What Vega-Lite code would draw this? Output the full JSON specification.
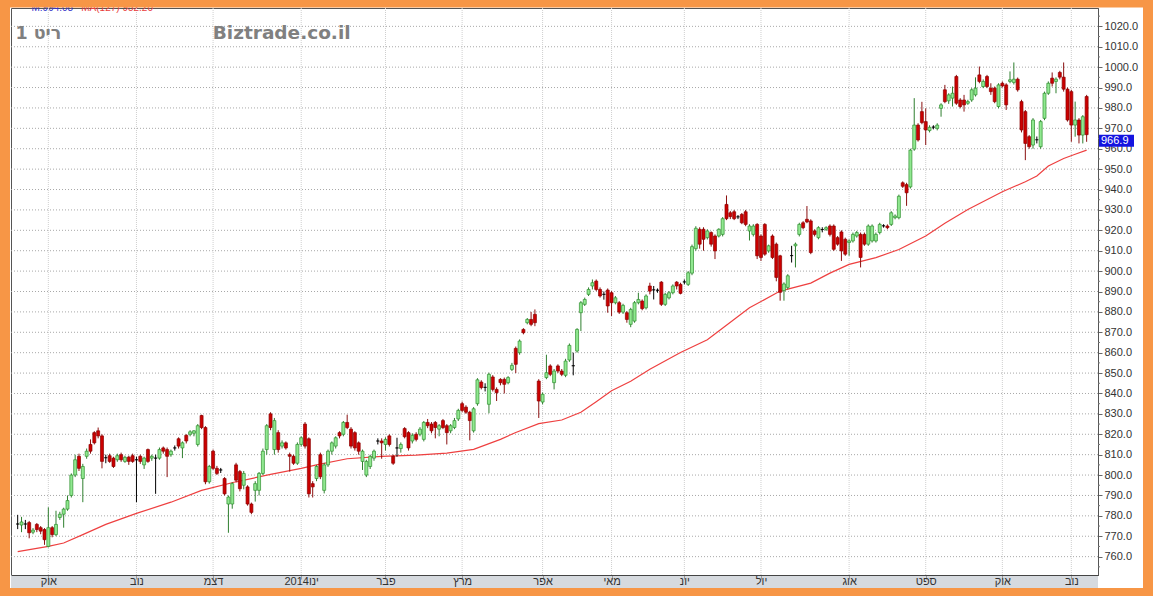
{
  "$schema": "https://vega.github.io/schema/vega-lite/v6.json",
  "width": 1087,
  "height": 567,
  "autosize": {"type": "none"},
  "padding": {"left": 11, "top": 8, "right": 55, "bottom": 21},
  "background": "white",
  "config": {
    "view": {"stroke": "#555555", "strokeWidth": 1, "fill": "white"},
    "axis": {"labelOverlap": false},
    "axisY": {"labelOverlap": false, "labelBound": false}
  },
  "datasets": {
    "months": [{"i":8},{"i":31},{"i":51},{"i":74},{"i":96},{"i":116},{"i":137},{"i":155},{"i":174},{"i":194},{"i":217},{"i":237},{"i":257},{"i":275}],
    "levels": [{"v":760},{"v":770},{"v":780},{"v":790},{"v":800},{"v":810},{"v":820},{"v":830},{"v":840},{"v":850},{"v":860},{"v":870},{"v":880},{"v":890},{"v":900},{"v":910},{"v":920},{"v":930},{"v":940},{"v":950},{"v":960},{"v":970},{"v":980},{"v":990},{"v":1000},{"v":1010},{"v":1020}],
    "minor": [{"v":755},{"v":765},{"v":775},{"v":785},{"v":795},{"v":805},{"v":815},{"v":825},{"v":835},{"v":845},{"v":855},{"v":865},{"v":875},{"v":885},{"v":895},{"v":905},{"v":915},{"v":925},{"v":935},{"v":945},{"v":955},{"v":965},{"v":975},{"v":985},{"v":995},{"v":1005},{"v":1015},{"v":1025}],
    "ma": [{"i":0,"ma":762.5},{"i":8,"ma":765},{"i":12,"ma":766.7},{"i":17,"ma":770.8},{"i":23,"ma":775.8},{"i":31,"ma":781.2},{"i":40,"ma":786.7},{"i":48,"ma":792.5},{"i":57,"ma":796.7},{"i":66,"ma":800.3},{"i":74,"ma":803.3},{"i":78,"ma":805},{"i":86,"ma":808},{"i":95,"ma":809.2},{"i":104,"ma":809.8},{"i":112,"ma":810.8},{"i":119,"ma":812.6},{"i":126,"ma":817.5},{"i":130,"ma":820.9},{"i":136,"ma":825.2},{"i":142,"ma":827},{"i":147,"ma":830.8},{"i":151,"ma":836},{"i":155,"ma":841.3},{"i":160,"ma":846},{"i":165,"ma":851.9},{"i":173,"ma":860.1},{"i":180,"ma":866.3},{"i":183,"ma":870.6},{"i":191,"ma":882},{"i":199,"ma":890.2},{"i":207,"ma":894.1},{"i":212,"ma":899},{"i":217,"ma":903.3},{"i":224,"ma":906.6},{"i":230,"ma":910.6},{"i":237,"ma":917.2},{"i":242,"ma":923.5},{"i":248,"ma":930.2},{"i":257,"ma":938.9},{"i":263,"ma":943.8},{"i":266,"ma":946.6},{"i":269,"ma":951.5},{"i":273,"ma":955.2},{"i":276,"ma":957.3},{"i":279,"ma":959.3}],
    "ohlc": [
{"i":0,"o":776,"h":780.5,"l":773.5,"c":776},
{"i":1,"o":775.5,"h":779.5,"l":772,"c":777},
{"i":2,"o":776,"h":778,"l":773.5,"c":776},
{"i":3,"o":776.7,"h":777.5,"l":769,"c":771.7},
{"i":4,"o":772,"h":774,"l":771,"c":773},
{"i":5,"o":775.8,"h":776.5,"l":772,"c":773.3},
{"i":6,"o":774.2,"h":775,"l":771,"c":772.5},
{"i":7,"o":773.3,"h":774,"l":765.8,"c":768.3},
{"i":8,"o":765,"h":784.2,"l":764.5,"c":774.2},
{"i":9,"o":774.2,"h":775,"l":769.5,"c":770.8},
{"i":10,"o":770.8,"h":782.5,"l":770,"c":775.8},
{"i":11,"o":779.2,"h":782,"l":778,"c":780.8},
{"i":12,"o":780.8,"h":784,"l":774.2,"c":783.3},
{"i":13,"o":783.3,"h":790,"l":782.5,"c":787.5},
{"i":14,"o":790,"h":800.8,"l":789,"c":800},
{"i":15,"o":800,"h":810,"l":799,"c":807.5},
{"i":16,"o":809.2,"h":810.5,"l":802,"c":803.3},
{"i":17,"o":798.3,"h":805.5,"l":786.7,"c":804.2},
{"i":18,"o":809.2,"h":813,"l":808,"c":811.7},
{"i":19,"o":815,"h":817.5,"l":810.5,"c":811.7},
{"i":20,"o":820.8,"h":821.5,"l":815,"c":815.8},
{"i":21,"o":821.7,"h":823.3,"l":818,"c":819.2},
{"i":22,"o":819.2,"h":820,"l":803.3,"c":806.7},
{"i":23,"o":808.5,"h":810,"l":805.8,"c":808.5},
{"i":24,"o":809.5,"h":810.5,"l":806,"c":806.7},
{"i":25,"o":808.3,"h":809,"l":803.5,"c":804.2},
{"i":26,"o":807.5,"h":810.5,"l":806.5,"c":809.5},
{"i":27,"o":810,"h":811,"l":806.5,"c":807.5},
{"i":28,"o":806.7,"h":809.5,"l":806,"c":808.7},
{"i":29,"o":808.8,"h":809.5,"l":805,"c":806.7},
{"i":30,"o":809.5,"h":810.5,"l":806,"c":806.7},
{"i":31,"o":807.5,"h":809,"l":786.7,"c":807.5},
{"i":32,"o":809.2,"h":810,"l":805.5,"c":806.7},
{"i":33,"o":805,"h":809,"l":803,"c":808.3},
{"i":34,"o":812.5,"h":813,"l":806,"c":806.7},
{"i":35,"o":808.3,"h":810,"l":807,"c":809.2},
{"i":36,"o":808.3,"h":810,"l":790.8,"c":808.3},
{"i":37,"o":808.3,"h":813.5,"l":807.5,"c":812.5},
{"i":38,"o":813.3,"h":814,"l":810.5,"c":811.7},
{"i":39,"o":812.5,"h":813.5,"l":799,"c":809.2},
{"i":40,"o":810,"h":812.5,"l":809,"c":811.7},
{"i":41,"o":813.3,"h":814.5,"l":812,"c":813.3},
{"i":42,"o":817.8,"h":818.5,"l":813,"c":814.2},
{"i":43,"o":813.3,"h":816.5,"l":808.3,"c":815.8},
{"i":44,"o":819.5,"h":820,"l":815.5,"c":816.7},
{"i":45,"o":820,"h":822,"l":819,"c":821.2},
{"i":46,"o":820.5,"h":822,"l":819,"c":821.7},
{"i":47,"o":815,"h":825,"l":814,"c":824.2},
{"i":48,"o":829.2,"h":829.6,"l":822.5,"c":823.3},
{"i":49,"o":823.3,"h":824,"l":795.5,"c":796.7},
{"i":50,"o":796.7,"h":805,"l":795.8,"c":804.2},
{"i":51,"o":811.7,"h":812.5,"l":802.5,"c":803.3},
{"i":52,"o":803.3,"h":804.5,"l":800,"c":800.8},
{"i":53,"o":802.5,"h":803.5,"l":801,"c":802.5},
{"i":54,"o":798.3,"h":799,"l":790,"c":790.8},
{"i":55,"o":785.8,"h":790,"l":771.7,"c":789.2},
{"i":56,"o":785.8,"h":796.5,"l":783.5,"c":795.8},
{"i":57,"o":805,"h":806,"l":796.5,"c":797.5},
{"i":58,"o":801.7,"h":802.5,"l":792,"c":793.3},
{"i":59,"o":795,"h":802,"l":793,"c":800.8},
{"i":60,"o":794.2,"h":795,"l":785,"c":785.8},
{"i":61,"o":785.8,"h":786.5,"l":780.8,"c":781.7},
{"i":62,"o":792.5,"h":797,"l":787,"c":795.8},
{"i":63,"o":792.5,"h":801.5,"l":790,"c":800.8},
{"i":64,"o":800.8,"h":813,"l":800,"c":811.7},
{"i":65,"o":812.5,"h":825,"l":810,"c":824.2},
{"i":66,"o":830,"h":830.8,"l":822,"c":823.3},
{"i":67,"o":812.5,"h":828,"l":810,"c":826.7},
{"i":68,"o":820.8,"h":822,"l":811,"c":812.5},
{"i":69,"o":814.2,"h":817,"l":813,"c":815.8},
{"i":70,"o":815.8,"h":816.5,"l":812.5,"c":813.3},
{"i":71,"o":810,"h":811,"l":801.7,"c":809.2},
{"i":72,"o":809.2,"h":810,"l":805,"c":805.8},
{"i":73,"o":805.8,"h":816,"l":805,"c":815},
{"i":74,"o":815,"h":819,"l":814,"c":818.3},
{"i":75,"o":825,"h":826,"l":813,"c":814.2},
{"i":76,"o":817.8,"h":818.5,"l":789,"c":790.8},
{"i":77,"o":795.8,"h":797,"l":789,"c":794.2},
{"i":78,"o":798.3,"h":805,"l":797,"c":804.2},
{"i":79,"o":810,"h":811,"l":798,"c":799.2},
{"i":80,"o":792.5,"h":806,"l":791,"c":805},
{"i":81,"o":805,"h":812.5,"l":804,"c":811.7},
{"i":82,"o":811.7,"h":816.5,"l":810,"c":815.8},
{"i":83,"o":814.2,"h":819,"l":813,"c":818.3},
{"i":84,"o":820.8,"h":821.5,"l":818,"c":819.2},
{"i":85,"o":820,"h":826.5,"l":819,"c":825.8},
{"i":86,"o":825.8,"h":829.6,"l":822.5,"c":823.3},
{"i":87,"o":822.5,"h":823.5,"l":813,"c":814.2},
{"i":88,"o":820.8,"h":821.5,"l":812,"c":813.3},
{"i":89,"o":815.8,"h":816.5,"l":810,"c":811.7},
{"i":90,"o":806.7,"h":812.5,"l":802.5,"c":811.7},
{"i":91,"o":800,"h":807.5,"l":799,"c":806.7},
{"i":92,"o":804.2,"h":810,"l":803,"c":809.2},
{"i":93,"o":808.3,"h":812.5,"l":807,"c":811.7},
{"i":94,"o":816.7,"h":818,"l":815,"c":816.7},
{"i":95,"o":816.7,"h":818,"l":808,"c":815.8},
{"i":96,"o":815,"h":818.5,"l":812,"c":817.5},
{"i":97,"o":819.2,"h":820,"l":814,"c":815},
{"i":98,"o":809.2,"h":810,"l":805,"c":805.8},
{"i":99,"o":813.3,"h":818.3,"l":809,"c":813.3},
{"i":100,"o":813,"h":816,"l":811,"c":815},
{"i":101,"o":822.8,"h":823.5,"l":818,"c":818.8},
{"i":102,"o":820.8,"h":821.5,"l":812,"c":813.3},
{"i":103,"o":816.7,"h":820.5,"l":815.5,"c":819.5},
{"i":104,"o":820,"h":821,"l":816.5,"c":817.5},
{"i":105,"o":820,"h":823.5,"l":819,"c":822.5},
{"i":106,"o":817.5,"h":826.5,"l":816.5,"c":825.8},
{"i":107,"o":825.8,"h":827.5,"l":823,"c":824.2},
{"i":108,"o":825,"h":826,"l":820.5,"c":821.7},
{"i":109,"o":825.8,"h":826.5,"l":818,"c":823.3},
{"i":110,"o":822.5,"h":825,"l":819,"c":824.2},
{"i":111,"o":826.7,"h":827.5,"l":822.5,"c":823.3},
{"i":112,"o":824.2,"h":825,"l":815,"c":820.8},
{"i":113,"o":821.7,"h":825,"l":820.5,"c":824.2},
{"i":114,"o":823.3,"h":828,"l":822.5,"c":826.7},
{"i":115,"o":827.5,"h":832.5,"l":826.5,"c":831.7},
{"i":116,"o":835,"h":836,"l":830.8,"c":831.7},
{"i":117,"o":833.3,"h":834.2,"l":830,"c":830.8},
{"i":118,"o":830.8,"h":831.5,"l":817,"c":826.7},
{"i":119,"o":821.7,"h":833.3,"l":820.8,"c":832.5},
{"i":120,"o":835,"h":847.5,"l":834,"c":846.7},
{"i":121,"o":845.6,"h":846.5,"l":842,"c":842.9},
{"i":122,"o":843,"h":845,"l":841,"c":843},
{"i":123,"o":834.7,"h":850.2,"l":830.3,"c":849.4},
{"i":124,"o":848.1,"h":849,"l":841,"c":842},
{"i":125,"o":842,"h":843,"l":836.3,"c":840.4},
{"i":126,"o":846.9,"h":847.5,"l":844,"c":845.3},
{"i":127,"o":846.9,"h":847.8,"l":840,"c":844.5},
{"i":128,"o":845.3,"h":848.5,"l":844.5,"c":847.8},
{"i":129,"o":851.8,"h":855,"l":851,"c":853.8},
{"i":130,"o":862.1,"h":863,"l":850,"c":854.3},
{"i":131,"o":860,"h":866.5,"l":859,"c":865.7},
{"i":132,"o":871.4,"h":872,"l":869,"c":869.8},
{"i":133,"o":874.7,"h":877,"l":873.9,"c":876.3},
{"i":134,"o":876.3,"h":880,"l":873,"c":873.9},
{"i":135,"o":878.8,"h":881.2,"l":873,"c":874.7},
{"i":136,"o":846.1,"h":847,"l":828,"c":836.3},
{"i":137,"o":835.8,"h":840.5,"l":834.7,"c":839.6},
{"i":138,"o":847.8,"h":859,"l":847,"c":850.2},
{"i":139,"o":853.5,"h":854.3,"l":848.5,"c":849.4},
{"i":140,"o":845.3,"h":852,"l":842,"c":851},
{"i":141,"o":853.5,"h":854.3,"l":850,"c":851},
{"i":142,"o":851,"h":852,"l":848.5,"c":849.4},
{"i":143,"o":848.9,"h":857,"l":848,"c":855.9},
{"i":144,"o":856.4,"h":864.5,"l":855.5,"c":863.6},
{"i":145,"o":853.6,"h":860,"l":848.9,"c":853.6},
{"i":146,"o":860.8,"h":872,"l":860,"c":871.4},
{"i":147,"o":879.6,"h":885.3,"l":870.6,"c":884.5},
{"i":148,"o":883.7,"h":887,"l":882.9,"c":886.1},
{"i":149,"o":888.6,"h":892,"l":887.8,"c":891},
{"i":150,"o":892.7,"h":895.9,"l":891,"c":894.3},
{"i":151,"o":895.1,"h":895.9,"l":890.2,"c":891},
{"i":152,"o":891,"h":892,"l":887,"c":887.8},
{"i":153,"o":888.6,"h":890,"l":886,"c":888.6},
{"i":154,"o":890.7,"h":891.5,"l":879.6,"c":882.9},
{"i":155,"o":889.4,"h":890.2,"l":878,"c":884.5},
{"i":156,"o":884.5,"h":887.8,"l":883.7,"c":886.9},
{"i":157,"o":884.5,"h":885.3,"l":879,"c":879.9},
{"i":158,"o":879.9,"h":884,"l":879,"c":883.2},
{"i":159,"o":879.6,"h":880.4,"l":874.7,"c":876.3},
{"i":160,"o":873.9,"h":882,"l":872.5,"c":881.2},
{"i":161,"o":875.5,"h":885.3,"l":874.7,"c":884.5},
{"i":162,"o":884.5,"h":889.4,"l":883.7,"c":886.1},
{"i":163,"o":885.3,"h":886.1,"l":880.8,"c":881.6},
{"i":164,"o":882,"h":888.6,"l":881.2,"c":887.8},
{"i":165,"o":892.7,"h":894.3,"l":888.6,"c":890.2},
{"i":166,"o":890.8,"h":892.7,"l":886.1,"c":890.8},
{"i":167,"o":890.6,"h":891.5,"l":889.4,"c":890.6},
{"i":168,"o":894.6,"h":895.1,"l":882.9,"c":883.7},
{"i":169,"o":883.7,"h":889.4,"l":882.9,"c":888.6},
{"i":170,"o":886.9,"h":890.2,"l":886.1,"c":889.4},
{"i":171,"o":889.4,"h":893.5,"l":888.6,"c":892.7},
{"i":172,"o":894.6,"h":895.1,"l":891,"c":892.7},
{"i":173,"o":893.5,"h":894.3,"l":888.6,"c":889.1},
{"i":174,"o":894.7,"h":895.9,"l":893.5,"c":894.7},
{"i":175,"o":893.5,"h":900,"l":892.7,"c":899.2},
{"i":176,"o":899,"h":913,"l":898,"c":912},
{"i":177,"o":911,"h":922,"l":910,"c":921},
{"i":178,"o":920.5,"h":921.5,"l":911,"c":913.2},
{"i":179,"o":920.5,"h":921.5,"l":910,"c":915.6},
{"i":180,"o":916.4,"h":920.5,"l":915.5,"c":919.7},
{"i":181,"o":918.9,"h":919.5,"l":912,"c":913.2},
{"i":182,"o":917.2,"h":918,"l":905.9,"c":909.9},
{"i":183,"o":917.2,"h":921,"l":916.5,"c":920.5},
{"i":184,"o":918,"h":926.5,"l":917,"c":925.7},
{"i":185,"o":932.7,"h":937.1,"l":925,"c":925.7},
{"i":186,"o":928.6,"h":929.5,"l":925.5,"c":926.7},
{"i":187,"o":929.1,"h":930,"l":925,"c":925.7},
{"i":188,"o":926.6,"h":927.5,"l":925.5,"c":926.6},
{"i":189,"o":927.8,"h":928.5,"l":923,"c":923.7},
{"i":190,"o":929.1,"h":930,"l":922,"c":922.9},
{"i":191,"o":919.7,"h":923,"l":915,"c":922.1},
{"i":192,"o":918,"h":923,"l":917,"c":922.1},
{"i":193,"o":922.9,"h":923.5,"l":905.9,"c":907.5},
{"i":194,"o":917.2,"h":918,"l":905,"c":906.7},
{"i":195,"o":922.9,"h":923.5,"l":907.5,"c":908.3},
{"i":196,"o":909.9,"h":913,"l":909,"c":912.4},
{"i":197,"o":917.2,"h":918,"l":905.9,"c":906.7},
{"i":198,"o":913.2,"h":914,"l":895,"c":896.9},
{"i":199,"o":907.5,"h":908,"l":885.5,"c":889.6},
{"i":200,"o":890.4,"h":894.5,"l":885.5,"c":893.7},
{"i":201,"o":892,"h":898.5,"l":891,"c":897.7},
{"i":202,"o":907.6,"h":912.4,"l":904.2,"c":907.6},
{"i":203,"o":912.4,"h":914,"l":901.8,"c":913.2},
{"i":204,"o":918,"h":923.7,"l":917,"c":922.9},
{"i":205,"o":923.7,"h":924.5,"l":920.5,"c":921.3},
{"i":206,"o":925.4,"h":931.9,"l":923.5,"c":924.1},
{"i":207,"o":924.6,"h":925.4,"l":908.3,"c":909.1},
{"i":208,"o":919.7,"h":920.5,"l":917,"c":918},
{"i":209,"o":916.4,"h":922,"l":915.6,"c":921.3},
{"i":210,"o":920.4,"h":921.5,"l":919,"c":920.4},
{"i":211,"o":920.5,"h":922,"l":919.7,"c":921.3},
{"i":212,"o":922.1,"h":922.9,"l":917,"c":918},
{"i":213,"o":922.1,"h":922.9,"l":909.9,"c":910.7},
{"i":214,"o":916.4,"h":917.2,"l":912.4,"c":913.2},
{"i":215,"o":919.2,"h":920,"l":905,"c":909.9},
{"i":216,"o":915.6,"h":916.4,"l":907.5,"c":908.3},
{"i":217,"o":914,"h":915.6,"l":907.5,"c":914.8},
{"i":218,"o":914.8,"h":918.9,"l":914,"c":918},
{"i":219,"o":917.2,"h":919.7,"l":916.4,"c":918.9},
{"i":220,"o":918,"h":918.9,"l":901.8,"c":906.7},
{"i":221,"o":918,"h":918.9,"l":912.4,"c":913.2},
{"i":222,"o":913.2,"h":922.9,"l":912.4,"c":922.1},
{"i":223,"o":914.8,"h":922.9,"l":914,"c":922.1},
{"i":224,"o":914.8,"h":918.9,"l":914,"c":918},
{"i":225,"o":918.9,"h":923.7,"l":918,"c":922.9},
{"i":226,"o":922.2,"h":923,"l":921.3,"c":922.2},
{"i":227,"o":922.1,"h":922.9,"l":920.5,"c":921.3},
{"i":228,"o":922.9,"h":929.4,"l":922.1,"c":928.6},
{"i":229,"o":926.2,"h":927.8,"l":925.4,"c":927},
{"i":230,"o":926.2,"h":937.5,"l":925.4,"c":936.7},
{"i":231,"o":943.3,"h":944,"l":940.8,"c":941.6},
{"i":232,"o":942.4,"h":943.3,"l":932,"c":938.4},
{"i":233,"o":941.3,"h":960,"l":940.5,"c":959.3},
{"i":234,"o":959.8,"h":984.8,"l":959,"c":971.6},
{"i":235,"o":971.6,"h":972.5,"l":963.5,"c":964.3},
{"i":236,"o":978.2,"h":983,"l":972,"c":972.8},
{"i":237,"o":973.3,"h":979.8,"l":961.8,"c":969.2},
{"i":238,"o":968.9,"h":971.5,"l":968,"c":970.5},
{"i":239,"o":970.6,"h":971.5,"l":969.5,"c":970.6},
{"i":240,"o":970,"h":972.5,"l":969,"c":971.6},
{"i":241,"o":979.8,"h":982.3,"l":975.7,"c":981.5},
{"i":242,"o":988.9,"h":991.3,"l":982.3,"c":983.1},
{"i":243,"o":983.5,"h":987.2,"l":982,"c":986.4},
{"i":244,"o":984.8,"h":990.5,"l":980.7,"c":987.2},
{"i":245,"o":995.4,"h":996.2,"l":981.5,"c":982.3},
{"i":246,"o":983.9,"h":984.8,"l":979.8,"c":980.7},
{"i":247,"o":983.9,"h":986.4,"l":978.2,"c":981.5},
{"i":248,"o":982.3,"h":984,"l":981.5,"c":983.1},
{"i":249,"o":983.9,"h":989.7,"l":983,"c":988.9},
{"i":250,"o":986.4,"h":995,"l":985.6,"c":989.7},
{"i":251,"o":996.2,"h":1000.3,"l":992.1,"c":993},
{"i":252,"o":990.5,"h":994,"l":989.7,"c":993},
{"i":253,"o":995.4,"h":996.2,"l":989.7,"c":990.5},
{"i":254,"o":989.7,"h":992.1,"l":986.4,"c":988},
{"i":255,"o":989.7,"h":990.5,"l":982.3,"c":983.1},
{"i":256,"o":980.7,"h":992.1,"l":979.8,"c":991.3},
{"i":257,"o":992.1,"h":993,"l":990,"c":990.8},
{"i":258,"o":991.3,"h":992.1,"l":979,"c":981.5},
{"i":259,"o":993,"h":997.9,"l":992.1,"c":993.8},
{"i":260,"o":992.5,"h":1002.3,"l":991.5,"c":994.1},
{"i":261,"o":994.1,"h":994.9,"l":988,"c":988.9},
{"i":262,"o":983.1,"h":984,"l":968,"c":969.2},
{"i":263,"o":978.2,"h":979,"l":954.4,"c":962.6},
{"i":264,"o":965.9,"h":966.7,"l":960,"c":961},
{"i":265,"o":961.8,"h":975,"l":960,"c":974.1},
{"i":266,"o":964.4,"h":966,"l":962.6,"c":964.4},
{"i":267,"o":961,"h":974.1,"l":960,"c":973.3},
{"i":268,"o":974.9,"h":988,"l":974,"c":987.2},
{"i":269,"o":987.2,"h":993,"l":986.4,"c":992.1},
{"i":270,"o":994.6,"h":997.4,"l":990.5,"c":992.1},
{"i":271,"o":993,"h":995,"l":987.2,"c":994.1},
{"i":272,"o":997.4,"h":998.2,"l":994,"c":995.1},
{"i":273,"o":995.1,"h":1002.3,"l":988,"c":989.2},
{"i":274,"o":989.2,"h":990,"l":973.3,"c":974.1},
{"i":275,"o":988,"h":988.9,"l":963.4,"c":971.6},
{"i":276,"o":971.6,"h":983.1,"l":965.9,"c":974.1},
{"i":277,"o":974.1,"h":975,"l":962.6,"c":966.7},
{"i":278,"o":966.7,"h":976.5,"l":962.6,"c":975.7},
{"i":279,"o":985.6,"h":986.4,"l":963.4,"c":966.9}
    ]
  },
  "layer": [
    {
      "data": {"values": [{}]},
      "mark": {"type": "rect", "x": 0, "x2": "width", "y": "height", "y2": {"expr": "height + 13"}, "fill": "#d6dadf"},
      "encoding": {}
    },
    {
      "data": {"name": "levels"},
      "mark": {"type": "rule", "color": "#a8a8a8", "strokeDash": [1, 2], "strokeWidth": 1},
      "encoding": {
        "y": {
          "field": "v", "type": "quantitative", "title": null,
          "scale": {"domain": [751, 1029], "nice": false, "zero": false},
          "axis": {
            "orient": "right", "grid": false, "zindex": 0,
            "values": [760,770,780,790,800,810,820,830,840,850,860,870,880,890,900,910,920,930,940,950,960,970,980,990,1000,1010,1020],
            "tickCount": 28,
            "labelExpr": "format(datum.value, '.1f')",
            "tickSize": 4,
            "tickColor": "#666666", "domainColor": "#555555",
            "labelFont": "Liberation Sans", "labelFontSize": 11, "labelColor": "#333333",
            "labelPadding": 2, "labelOverlap": false, "labelFlush": false, "labelBound": false, "labelBaseline": "middle"
          }
        }
      }
    },
    {
      "data": {"name": "minor"},
      "mark": {"type": "rule", "color": "#777777", "strokeWidth": 1, "x": "width", "x2": {"expr": "width + 2"}},
      "encoding": {
        "y": {"field": "v", "type": "quantitative", "title": null}
      }
    },
    {
      "data": {"name": "months"},
      "mark": {"type": "rule", "color": "#cfcfcf", "strokeDash": [1, 1], "strokeWidth": 1},
      "encoding": {
        "x": {
          "field": "i", "type": "quantitative", "title": null,
          "scale": {"domain": [-0.44, 280.66], "nice": false, "zero": false},
          "axis": {
            "orient": "bottom", "grid": false, "zindex": 1,
            "values": [8, 31, 51, 74, 96, 116, 137, 155, 174, 194, 217, 237, 257, 275],
            "labelExpr": "datum.value == 8 ? 'אוק' : datum.value == 31 ? 'נוב' : datum.value == 51 ? 'דצמ' : datum.value == 74 ? 'ינו2014' : datum.value == 96 ? 'פבר' : datum.value == 116 ? 'מרץ' : datum.value == 137 ? 'אפר' : datum.value == 155 ? 'מאי' : datum.value == 174 ? 'יונ' : datum.value == 194 ? 'יול' : datum.value == 217 ? 'אוג' : datum.value == 237 ? 'ספט' : datum.value == 257 ? 'אוק' : 'נוב'",
            "tickSize": 4, "tickColor": "#999999", "domainColor": "#444444",
            "labelFont": "Liberation Sans", "labelFontSize": 11, "labelColor": "#333333",
            "labelBaseline": "middle", "labelPadding": 2.5, "labelOverlap": false, "labelFlush": false, "labelBound": false
          }
        }
      }
    },
    {
      "data": {"name": "ma"},
      "mark": {"type": "line", "color": "#ee4040", "strokeWidth": 1.2},
      "encoding": {
        "x": {"field": "i", "type": "quantitative", "title": null},
        "y": {"field": "ma", "type": "quantitative", "title": null}
      }
    },
    {
      "data": {"name": "ohlc"},
      "mark": {"type": "rule", "strokeWidth": 1},
      "encoding": {
        "x": {"field": "i", "type": "quantitative", "title": null},
        "y": {"field": "l", "type": "quantitative", "title": null},
        "y2": {"field": "h", "title": null},
        "color": {"condition": [{"test": "datum.o == datum.c", "value": "#000000"}, {"test": "datum.c > datum.o", "value": "#2f7f2f"}], "value": "#8b1010"}
      }
    },
    {
      "data": {"name": "ohlc"},
      "mark": {"type": "bar", "width": 3, "strokeWidth": 0.7},
      "encoding": {
        "x": {"field": "i", "type": "quantitative", "title": null},
        "y": {"field": "o", "type": "quantitative", "title": null},
        "y2": {"field": "c", "title": null},
        "fill": {"condition": [{"test": "datum.o == datum.c", "value": "#000000"}, {"test": "datum.c > datum.o", "value": "#90e890"}], "value": "#cc0000"},
        "stroke": {"condition": [{"test": "datum.o == datum.c", "value": "#000000"}, {"test": "datum.c > datum.o", "value": "#2f8f2f"}], "value": "#8b0000"}
      }
    },
    {
      "data": {"values": [{}]},
      "mark": {"type": "text", "align": "left", "baseline": "alphabetic", "font": "DejaVu Sans", "fontWeight": "bold", "fontSize": 17.5, "color": "#808080"},
      "encoding": {"x": {"datum": -0.6, "type": "quantitative"}, "y": {"datum": 1014, "type": "quantitative"}, "text": {"value": "ריט 1"}}
    },
    {
      "data": {"values": [{}]},
      "mark": {"type": "text", "align": "left", "baseline": "alphabetic", "font": "DejaVu Sans", "fontWeight": "bold", "fontSize": 18.5, "color": "#808080"},
      "encoding": {"x": {"datum": 50.9, "type": "quantitative"}, "y": {"datum": 1014, "type": "quantitative"}, "text": {"value": "Biztrade.co.il"}}
    },
    {
      "data": {"values": [{}]},
      "mark": {"type": "text", "align": "left", "baseline": "alphabetic", "font": "Liberation Sans", "fontSize": 10, "color": "#3232c8"},
      "encoding": {"x": {"datum": 3.6, "type": "quantitative"}, "y": {"datum": 1027.3, "type": "quantitative"}, "text": {"value": "M:994.08"}}
    },
    {
      "data": {"values": [{}]},
      "mark": {"type": "text", "align": "left", "baseline": "alphabetic", "font": "Liberation Sans", "fontSize": 10, "color": "#e83c3c"},
      "encoding": {"x": {"datum": 16.6, "type": "quantitative"}, "y": {"datum": 1027.3, "type": "quantitative"}, "text": {"value": "MA(127)   952.20"}}
    },
    {
      "data": {"name": "ohlc"},
      "transform": [{"filter": "datum.i == 279"}],
      "mark": {"type": "rect", "x": {"expr": "width + 1"}, "x2": {"expr": "width + 36"}, "yOffset": 0, "y2Offset": 12, "fill": "#1414e0"},
      "encoding": {"y": {"field": "c", "type": "quantitative", "title": null}, "y2": {"field": "c", "title": null}}
    },
    {
      "data": {"name": "ohlc"},
      "transform": [{"filter": "datum.i == 279"}],
      "mark": {"type": "text", "x": {"expr": "width + 3"}, "yOffset": 6.5, "align": "left", "baseline": "middle", "font": "Liberation Sans", "fontSize": 11, "color": "white"},
      "encoding": {"y": {"field": "c", "type": "quantitative", "title": null}, "text": {"field": "c", "type": "quantitative", "format": ".1f"}}
    },
    {
      "data": {"values": [{}]},
      "mark": {"type": "rect", "x": -6, "x2": {"expr": "width + 50"}, "y": -5.5, "y2": {"expr": "height + 18"}, "fill": null, "fillOpacity": 0, "stroke": "#f79646", "strokeWidth": 10},
      "encoding": {}
    }
  ]
}
